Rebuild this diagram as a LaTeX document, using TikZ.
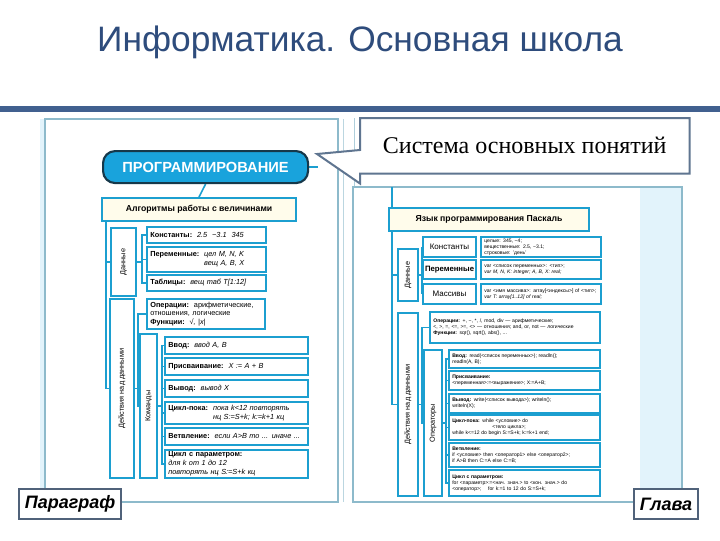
\documentclass[tikz,border=0pt]{standalone}
\usepackage{fontspec}
\setmainfont{Liberation Sans}
\newfontfamily\serifru{Liberation Serif}
\usetikzlibrary{calc}
\definecolor{titc}{HTML}{2E4C7C}
\definecolor{barc}{HTML}{41608F}
\definecolor{cy}{HTML}{1C9FD0}
\definecolor{progf}{HTML}{19A3DC}
\definecolor{progd}{HTML}{16384A}
\definecolor{pan}{HTML}{8DBACB}
\definecolor{lb}{HTML}{E2F3FB}
\definecolor{yel}{HTML}{FFFCEB}
\definecolor{callc}{HTML}{5F7590}
\definecolor{tagc}{HTML}{50627A}
\pgfdeclarelayer{panels}
\pgfdeclarelayer{wires}
\pgfsetlayers{panels,wires,main}
\tikzset{
  box/.style={draw=cy, line width=1.5pt, fill=white, inner xsep=1.5pt, inner ysep=1pt,
    font=\fontsize{5.5}{6.6}\selectfont},
  tiny/.style={font=\fontsize{3.8}{4.4}\selectfont, inner ysep=0.8pt},
  headbox/.style={fill=yel, font=\bfseries\fontsize{6.5}{7.5}\selectfont},
  progbox/.style={rounded corners=9pt, fill=progf, draw=progd, line width=1.6pt,
    text=white, font=\bfseries\fontsize{11}{12}\selectfont},
  tagbox/.style={draw=tagc, line width=1.6pt, fill=white,
    font=\bfseries\itshape\fontsize{13.5}{16}\selectfont},
  ln/.style={draw=cy, line width=1.2pt},
  panel/.style={draw=pan, line width=0.8pt, fill=white},
}
\newcommand\bx[7][]{\pgfmathsetmacro\bw{(#5-#3)*0.75}\pgfmathsetmacro\bh{(#6-#4)*0.75}%
  \node[box,anchor=north west,minimum width=\bw pt,minimum height=\bh pt,#1] (#2) at (#3,#4) {#7};}
\newcommand\lbx[7][]{\pgfmathsetmacro\bw{(#5-#3)*0.75}\pgfmathsetmacro\bh{(#6-#4)*0.75}%
  \pgfmathsetmacro\tw{\bw-5}%
  \node[box,anchor=north west,minimum width=\bw pt,minimum height=\bh pt,text width=\tw pt,
    align=left,inner xsep=2.5pt,#1] (#2) at (#3,#4) {#7};}
\begin{document}
\begin{tikzpicture}[x=0.75pt,y=-0.75pt]
\useasboundingbox (0,0) rectangle (720,540);
% ---------- background, title, panels ----------
\begin{pgfonlayer}{panels}
  \fill[white] (0,0) rectangle (720,540);
  \fill[barc] (0,106) rectangle (720,112);
  \fill[lb] (40,119) rectangle (45,502);
  \draw[panel] (45,119) rectangle (338,502);
  \draw[pan!60, line width=0.6pt] (343,119) -- (343,502);
  \draw[pan!70, line width=0.6pt] (354,118) -- (354,502);
  \draw[panel] (353,187) rectangle (682,502);
  \fill[lb] (640,188) rectangle (681,495);
\end{pgfonlayer}
\node[font=\fontsize{26.5}{30}\selectfont, text=titc] (title) at (360,42) {Информатика. Основная школа};

% ---------- left panel ----------
\bx[progbox]{prog}{102}{150}{307}{182}{ПРОГРАММИРОВАНИЕ}
\bx[headbox]{alg}{101}{197}{295}{220}{Алгоритмы работы с величинами}
\bx{dan}{110}{227}{135}{295}{\rotatebox{90}{Данные}}
\lbx{kon}{146}{226}{265}{242}{\textbf{Константы:}\ \ \textit{2.5 \ −3.1 \ 345}}
\lbx{per}{146}{246}{265}{271}{\textbf{Переменные:}\ \ \textit{цел M, N, K}\\\phantom{\textbf{Переменные:}}\ \ \textit{вещ A, B, X}}
\lbx{tab}{146}{274}{265}{290}{\textbf{Таблицы:}\ \ \textit{вещ таб T[1:12]}}
\bx{dej}{109}{298}{133}{477}{\rotatebox{90}{Действия над данными}}
\lbx{op}{146}{298}{264}{328}{\textbf{Операции:}\ \ арифметические,\\отношения, логические\\\textbf{Функции:}\ \ \textit{√, |x|}}
\bx{kom}{139}{333}{156}{477}{\rotatebox{90}{Команды}}
\lbx{vv}{164}{336}{307}{353}{\textbf{Ввод:}\ \ \textit{ввод A, B}}
\lbx{pr}{164}{357}{307}{374}{\textbf{Присваивание:}\ \ \textit{X := A + B}}
\lbx{vy}{164}{379}{307}{396}{\textbf{Вывод:}\ \ \textit{вывод X}}
\lbx{cp}{164}{401}{307}{423}{\textbf{Цикл-пока:}\ \ \textit{пока k<12 повторять}\\\phantom{\textbf{Цикл-пока:}}\ \ \textit{нц S:=S+k; k:=k+1 кц}}
\lbx{vt}{164}{427}{307}{444}{\textbf{Ветвление:}\ \ \textit{если A>B то ... иначе ...}}
\lbx{cpp}{164}{449}{307}{477}{\textbf{Цикл с параметром:}\\\textit{для k от 1 до 12}\\\textit{повторять нц S:=S+k кц}}

% ---------- callout ----------
\pgfmathsetmacro\cw{(689-360)*0.75}\pgfmathsetmacro\ch{(173-118)*0.75}
\node[anchor=north west, minimum width=\cw pt, minimum height=\ch pt, inner sep=0pt,
  font=\serifru\fontsize{18}{21}\selectfont] (sys) at (360,118) {Система основных понятий};
\coordinate (tip) at (317,154);
\begin{pgfonlayer}{wires}
  \filldraw[draw=callc, fill=white, line width=1.5pt, line join=miter]
    (sys.north west) -- (sys.north east) -- (sys.south east) -- (sys.south west)
    -- ([yshift=-7.5pt]sys.south west) -- (tip) -- ([yshift=-24pt]sys.north west) -- cycle;
\end{pgfonlayer}

% ---------- right panel ----------
\bx[headbox]{yaz}{388}{207}{588}{230}{Язык программирования Паскаль}
\bx{rdan}{397}{248}{417}{300}{\rotatebox{90}{Данные}}
\bx[font=\fontsize{6}{7}\selectfont]{rkon}{422}{236}{475}{256}{Константы}
\bx[font=\bfseries\fontsize{5.8}{7}\selectfont]{rper}{422}{259}{475}{278}{Переменные}
\bx[font=\fontsize{6}{7}\selectfont]{rmas}{422}{283}{475}{303}{Массивы}
\lbx[tiny]{rkond}{480}{236}{600}{256}{целые: 345, −4;\\вещественные: 2.5, −3.1;\\строковые: ’день’}
\lbx[tiny]{rperd}{480}{259}{600}{278}{var <список переменных>: <тип>;\\\textit{var M, N, K: integer; A, B, X: real;}}
\lbx[tiny]{rmasd}{480}{283}{600}{303}{var <имя массива>: array[<индексы>] of <тип>;\\\textit{var T: array[1..12] of real;}}
\bx{rdej}{397}{312}{417}{495}{\rotatebox{90}{Действия над данными}}
\lbx[tiny]{rop}{429}{311}{599}{342}{\textbf{Операции:} +, −, *, /, mod, div — арифметические;\\<, >, =, <=, >=, <> — отношения; and, or, not — логические\\\textbf{Функции:} sqr(), sqrt(), abs(), ...}
\bx{ropr}{423}{349}{441}{495}{\rotatebox{90}{Операторы}}
\lbx[tiny]{rvv}{448}{349}{599}{367}{\textbf{Ввод:} read(<список переменных>); readln();\\readln(A, B);}
\lbx[tiny]{rpr}{448}{370}{599}{389}{\textbf{Присваивание:}\\<переменная>:=<выражение>; X:=A+B;}
\lbx[tiny]{rvy}{448}{393}{599}{412}{\textbf{Вывод:} write(<список вывода>); writeln();\\writeln(X);}
\lbx[tiny]{rcp}{448}{414}{599}{439}{\textbf{Цикл-пока:} while <условие> do\\\hspace*{30pt}<тело цикла>;\\while k<=12 do begin S:=S+k; k:=k+1 end;}
\lbx[tiny]{rvt}{448}{442}{599}{466}{\textbf{Ветвление:}\\if <условие> then <оператор1> else <оператор2>;\\if A>B then C:=A else C:=B;}
\lbx[tiny]{rcpp}{448}{469}{599}{495}{\textbf{Цикл с параметром:}\\for <параметр>:=<нач. знач.> to <кон. знач.> do\\<оператор>; \quad for k:=1 to 12 do S:=S+k;}

% ---------- tags ----------
\bx[tagbox]{par}{18}{488}{120}{518}{Параграф}
\bx[tagbox]{gl}{633}{488}{697}{518}{Глава}

% ---------- connectors ----------
\begin{pgfonlayer}{wires}
  \draw[ln] (prog.south) -- (alg.north);
  \coordinate (ptick) at ($(prog.east)+(9,0)$);
  \draw[ln] (prog.east) -- (ptick);
  \coordinate (lspine) at ([xshift=3.75pt]alg.south west);
  \draw[ln] (lspine) |- (dan.west);
  \draw[ln] (lspine) |- (dej.west);
  \foreach \c in {kon,per,tab} \draw[ln] (dan.east) -- ++(5,0) |- (\c.west);
  \foreach \c in {op,kom} \draw[ln] (dej.east) -- ++(3,0) |- (\c.west);
  \foreach \c in {vv,pr,vy,cp,vt,cpp} \draw[ln] (kom.east) -- ++(4,0) |- (\c.west);
  \coordinate (rtop) at (392,187);
  \draw[ln] (rtop) |- (rdan.west);
  \draw[ln] (rtop) |- (rdej.west);
  \foreach \c in {rkon,rper,rmas} \draw[ln] (rdan.east) -- ++(3,0) |- (\c.west);
  \foreach \c in {rop,ropr} \draw[ln] (rdej.east) -- ++(3,0) |- (\c.west);
  \foreach \c in {rvv,rpr,rvy,rcp,rvt,rcpp} \draw[ln] (ropr.east) -- ++(3,0) |- (\c.west);
\end{pgfonlayer}
\end{tikzpicture}
\end{document}
